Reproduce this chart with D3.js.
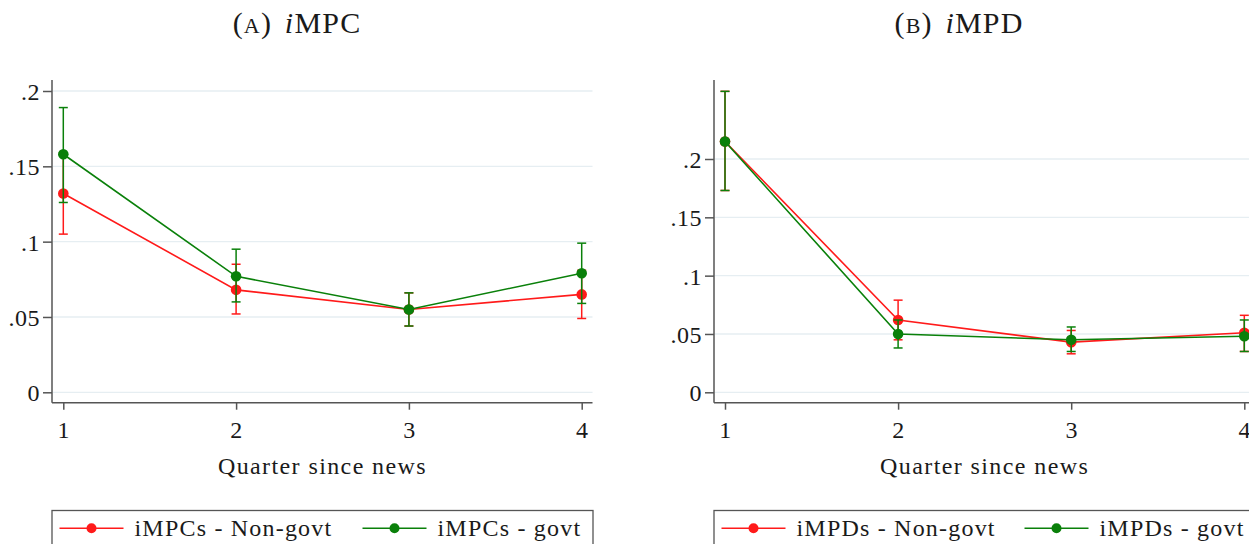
<!DOCTYPE html>
<html>
<head>
<meta charset="utf-8">
<script src="https://cdn.jsdelivr.net/npm/d3@7"></script>
</head>
<body style="margin:0;background:#fff">
<svg id="chart" width="1249" height="544" style="display:block;font-family:'Liberation Serif'"></svg>
<script>
// Quarters since the news shock
const quarters = [1, 2, 3, 4];

// Panel A: intertemporal MPCs (point estimate, lower CI, upper CI)
const impcNonGovt    = [0.132, 0.068, 0.055, 0.065];
const impcNonGovtLo  = [0.105, 0.052, 0.044, 0.049];
const impcNonGovtHi  = [0.159, 0.085, 0.066, 0.081];
const impcGovt       = [0.158, 0.077, 0.055, 0.079];
const impcGovtLo     = [0.126, 0.060, 0.044, 0.059];
const impcGovtHi     = [0.189, 0.095, 0.066, 0.099];

// Panel B: intertemporal MPDs
const impdNonGovt    = [0.215, 0.062, 0.043, 0.051];
const impdNonGovtLo  = [0.173, 0.045, 0.033, 0.035];
const impdNonGovtHi  = [0.258, 0.079, 0.053, 0.066];
const impdGovt       = [0.215, 0.050, 0.045, 0.048];
const impdGovtLo     = [0.173, 0.038, 0.035, 0.035];
const impdGovtHi     = [0.258, 0.062, 0.056, 0.062];

const ticksA = [0, 0.05, 0.1, 0.15, 0.2];
const tickLabelsA = ["0", ".05", ".1", ".15", ".2"];
const ticksB = [0, 0.05, 0.1, 0.15, 0.2];
const tickLabelsB = ["0", ".05", ".1", ".15", ".2"];

const xTitle = "Quarter since news";
const RED = "#ff1a1a", GREEN = "#0a800a";
const FONT = "Liberation Serif";
const INK = "#1a1a1a";

const svg = d3.select("#chart");

function styleText(sel, size, spacing) {
  sel.attr("font-family", FONT).attr("font-size", size)
     .attr("letter-spacing", spacing).attr("fill", INK);
  return sel;
}

function panel(cfg) {
  const g = svg.append("g");
  const x = d3.scaleLinear().domain([1, 4]).range([cfg.x1, cfg.x4]);
  const y = d3.scaleLinear().domain([0, cfg.yTopVal]).range([392.3, cfg.yTopPx]);

  // gridlines
  g.append("g").selectAll("line").data(cfg.ticks).join("line")
    .attr("x1", cfg.axisX + 1).attr("x2", cfg.plotRight)
    .attr("y1", d => y(d)).attr("y2", d => y(d))
    .attr("stroke", "#e6eef2").attr("stroke-width", 1.3);

  // y axis
  const yAxis = d3.axisLeft(y).tickValues(cfg.ticks)
    .tickFormat((d, i) => cfg.tickLabels[i]).tickSize(9).tickPadding(3);
  const ya = g.append("g").attr("transform", `translate(${cfg.axisX},0)`).call(yAxis);
  ya.select(".domain").attr("d", `M0,80V402.7`);
  // x axis
  const xAxis = d3.axisBottom(x).tickValues(quarters).tickFormat(d3.format("d"))
    .tickSize(7).tickPadding(16);
  const xa = g.append("g").attr("transform", `translate(0,402.7)`).call(xAxis);
  xa.select(".domain").attr("d", `M${cfg.axisX},0H${cfg.plotRight}`);
  [ya, xa].forEach(a => {
    a.attr("font-family", FONT);
    a.selectAll("path, line").attr("stroke", "#555").attr("stroke-width", 1.5);
    styleText(a.selectAll("text"), 24, 0.5);
  });
  ya.selectAll("text").attr("dy", "0.36em");
  xa.selectAll("text").attr("dy", "0.5em");

  // x-axis title
  styleText(g.append("text"), 24, 1.4)
    .attr("x", (cfg.x1 + cfg.x4) / 2).attr("y", 474)
    .attr("text-anchor", "middle").text(xTitle);

  // panel title
  const t = styleText(g.append("text"), 30, 1.2)
    .attr("x", cfg.titleX).attr("y", 33)
    .attr("text-anchor", "middle").attr("word-spacing", 4);
  t.append("tspan").text("(");
  t.append("tspan").attr("font-size", 22).text(cfg.letter);
  t.append("tspan").text(") ");
  t.append("tspan").attr("font-style", "italic").text("i");
  t.append("tspan").text(cfg.name);

  const line = d3.line().x((d, i) => x(quarters[i])).y(d => y(d));
  cfg.series.forEach(s => {
    const sg = g.append("g");
    // error bars
    quarters.forEach((q, i) => {
      const cx = x(q);
      sg.append("line").attr("x1", cx).attr("x2", cx)
        .attr("y1", y(s.lo[i])).attr("y2", y(s.hi[i]))
        .attr("stroke", s.color).attr("stroke-width", 1.5);
      [s.lo[i], s.hi[i]].forEach(v => {
        sg.append("line").attr("x1", cx - 4.5).attr("x2", cx + 4.5)
          .attr("y1", y(v)).attr("y2", y(v))
          .attr("stroke", s.color).attr("stroke-width", 1.5);
      });
    });
    sg.append("path").datum(s.values).attr("d", line)
      .attr("fill", "none").attr("stroke", s.color).attr("stroke-width", 1.6);
    sg.selectAll("circle").data(s.values).join("circle")
      .attr("cx", (d, i) => x(quarters[i])).attr("cy", d => y(d))
      .attr("r", 5.3).attr("fill", s.color);
  });

  // legend
  const lg = g.append("g");
  lg.append("rect").attr("x", cfg.axisX).attr("y", 510.5)
    .attr("width", cfg.legendW).attr("height", 50)
    .attr("fill", "#fff").attr("stroke", "#555").attr("stroke-width", 1.3);
  cfg.series.forEach((s, i) => {
    const lx = cfg.axisX + 7.5 + i * cfg.legendStep;
    lg.append("line").attr("x1", lx).attr("x2", lx + 64)
      .attr("y1", 528.3).attr("y2", 528.3)
      .attr("stroke", s.color).attr("stroke-width", 1.6);
    lg.append("circle").attr("cx", lx + 32).attr("cy", 528.3).attr("r", 5).attr("fill", s.color);
    styleText(lg.append("text"), 24, 1.2)
      .attr("x", lx + 75).attr("y", 535.5).text(s.label);
  });
}

panel({
  x1: 63.3, x4: 581.7, axisX: 52, plotRight: 592.5,
  yTopVal: 0.2, yTopPx: 91, ticks: ticksA, tickLabels: tickLabelsA,
  titleX: 297, letter: "A", name: "MPC", legendW: 541, legendStep: 303,
  series: [
    { values: impcNonGovt, lo: impcNonGovtLo, hi: impcNonGovtHi, color: RED, label: "iMPCs - Non-govt" },
    { values: impcGovt, lo: impcGovtLo, hi: impcGovtHi, color: GREEN, label: "iMPCs - govt" }
  ]
});

panel({
  x1: 725, x4: 1244.3, axisX: 714, plotRight: 1260,
  yTopVal: 0.2, yTopPx: 159, ticks: ticksB, tickLabels: tickLabelsB,
  titleX: 959, letter: "B", name: "MPD", legendW: 560, legendStep: 303,
  series: [
    { values: impdNonGovt, lo: impdNonGovtLo, hi: impdNonGovtHi, color: RED, label: "iMPDs - Non-govt" },
    { values: impdGovt, lo: impdGovtLo, hi: impdGovtHi, color: GREEN, label: "iMPDs - govt" }
  ]
});
</script>
</body>
</html>
